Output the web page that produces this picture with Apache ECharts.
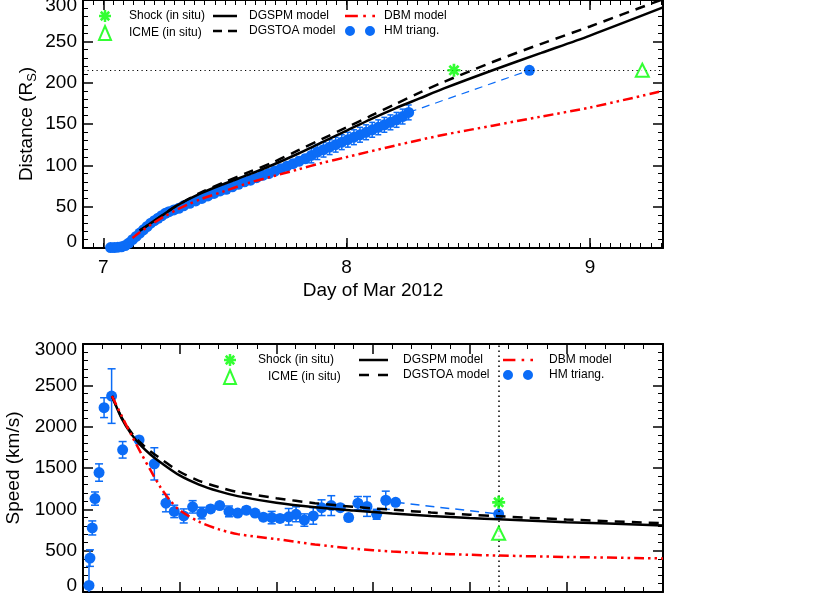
<!DOCTYPE html>
<html>
<head>
<meta charset="utf-8">
<script src="https://cdn.jsdelivr.net/npm/echarts@6/dist/echarts.min.js"></script>
<style>
  html, body { margin: 0; padding: 0; background: #fff; }
  #chart { width: 830px; height: 593px; }
</style>
</head>
<body>
<div id="chart"></div>
<script>
// ---- top panel: distance vs time (day of March 2012) ----
var hmDay = [7.030, 7.045, 7.060, 7.075, 7.090, 7.105, 7.120, 7.135, 7.150, 7.165, 7.180, 7.195, 7.210, 7.225, 7.240, 7.255, 7.270,
             7.290, 7.310, 7.330,
             7.355, 7.380, 7.405, 7.430, 7.455, 7.480, 7.505, 7.530, 7.555, 7.580, 7.605, 7.630, 7.655, 7.680, 7.705, 7.730, 7.755, 7.780, 7.805, 7.830,
             7.855, 7.880, 7.905, 7.930, 7.955, 7.980, 8.005, 8.030, 8.055, 8.080, 8.105, 8.130, 8.155, 8.180, 8.205, 8.230, 8.255];
var hmDist = [0.5, 0.5, 1, 1.5, 3, 6, 10, 14, 18, 22, 26, 30, 33, 36, 39, 42, 44,
              46, 48, 51,
              54, 57, 60, 63, 66, 69, 71, 74, 77, 80, 82, 85, 88, 90, 93, 96, 99, 102, 105, 108,
              112, 116, 119, 122, 125, 128, 131, 134, 137, 140, 143, 146, 149, 152, 155, 159, 164];
var hmDistErr = [3, 3, 3, 3, 3, 4, 4, 4, 4, 4, 4, 4, 4, 4, 4, 4, 4,
                 4, 4, 4,
                 4, 4, 4, 4, 4, 4, 4, 4, 4, 4, 4, 4, 4, 4, 4, 4, 4, 4, 5, 5,
                 9, 9, 9, 9, 9, 9, 9, 9, 9, 9, 9, 9, 9, 9, 9, 9, 9];
var hmArrivalDay = 8.751;
var auDist = 215;          // 1 AU in solar radii
var shockDay = 8.441;
var icmeDay = 9.215;

var dgsDay     = [7.15, 7.2, 7.25, 7.3, 7.4, 7.5, 7.6, 7.7, 7.8, 7.9, 8.0, 8.1, 8.2, 8.3, 8.4, 8.6, 8.8, 9.0, 9.3];
var dgspmDist  = [21, 31, 41, 51, 66, 78, 89, 101, 114, 128, 142, 156, 169, 181, 193, 215, 236, 257, 291];
var dgstoaDist = [21, 31, 41, 51, 67, 80, 92, 104, 118, 132, 146, 160, 174, 188, 201, 225, 247, 268, 301];
var dbmDay  = [7.12, 7.15, 7.2, 7.25, 7.3, 7.35, 7.4, 7.5, 7.6, 7.7, 7.8, 7.9, 8.0, 8.2, 8.4, 8.6, 8.8, 9.0, 9.3];
var dbmDist = [12, 19, 29, 38, 46, 53, 59, 69, 79, 87, 95, 103, 110, 124, 137, 148, 159, 170, 190];

// ---- bottom panel: speed vs distance (R_sun) ----
var hmR = [3.1, 3.6, 4.8, 6.2, 8.3, 10.9, 14.8, 20.5, 29.0, 36.9, 42.9, 47.2, 52.1, 56.7, 61.4, 66.0, 70.7, 75.5, 80.0,
           84.5, 89.0, 93.3, 97.6, 101.9, 106.4, 110.2, 114.5, 119.1, 123.4, 128.4, 133.1, 137.4, 142.2, 146.9, 151.9, 156.6, 161.7];
var hmV = [80, 410, 775, 1130, 1445, 2230, 2370, 1720, 1840, 1550, 1075, 975, 920, 1030, 955, 1005, 1045, 975, 955,
           990, 955, 905, 900, 890, 910, 940, 870, 920, 1020, 1045, 1020, 900, 1075, 1035, 940, 1110, 1085];
var hmVErr = [300, 100, 85, 80, 105, 120, 330, 100, 40, 195, 105, 75, 85, 75, 70, 40, 40, 65, 40,
              40, 40, 40, 75, 40, 100, 90, 75, 100, 95, 120, 30, 40, 80, 120, 60, 110, 30];
var hmArrivalV = 943;
var shockV = 1085;
var icmeV = 710;

var modelR  = [15, 20, 25, 30, 35, 40, 50, 60, 70, 80, 100, 120, 140, 160, 180, 200, 215, 250, 300];
var dgspmV  = [2371, 2100, 1910, 1770, 1660, 1570, 1410, 1300, 1220, 1160, 1080, 1025, 985, 950, 920, 895, 880, 845, 805];
var dgstoaV = [2371, 2110, 1930, 1800, 1700, 1615, 1455, 1345, 1270, 1210, 1135, 1075, 1030, 995, 962, 935, 917, 877, 832];
var dbmR = [15, 20, 25, 30, 35, 40, 45, 50, 60, 70, 80, 100, 120, 140, 160, 180, 200, 215, 250, 300];
var dbmV = [2371, 2130, 1900, 1680, 1470, 1270, 1110, 990, 850, 760, 700, 640, 575, 525, 490, 467, 450, 441, 424, 406];

var dayMin = 166 / 24, dayMax = 9.3;

var FONT = "'Liberation Sans', Arial, Helvetica, sans-serif";
var BLUE = '#0b6cf7';
var GREEN = '#00ff00';
var RED = '#ff0000';
var ASTERISK = 'path://M4.75,0L7.25,0L7.25,12L4.75,12ZM0,4.75L12,4.75L12,7.25L0,7.25Z' +
               'M0.873,2.641L2.641,0.873L11.127,9.359L9.359,11.127ZM9.359,0.873L11.127,2.641L2.641,11.127L0.873,9.359Z';
var TWO_DOTS = 'path://M0,5A5,5,0,1,1,10,5A5,5,0,1,1,0,5ZM20,5A5,5,0,1,1,30,5A5,5,0,1,1,20,5Z';

// legend icons that mimic the line styles (w = icon width in px)
function bar(x0, x1) { return 'M' + x0 + ',0H' + x1 + 'V2.5H' + x0 + 'Z'; }
function solidIcon(w) { return 'path://' + bar(0, w); }
function dashIcon(w) { var d = Math.round(w * 0.36); return 'path://' + bar(0, d) + bar(w - d, w); }
function dbmIcon(w) {
  return 'path://' + bar(0, Math.round(w * 0.42)) + bar(Math.round(w * 0.62), Math.round(w * 0.62) + 2.5) + bar(w - 2.5, w);
}

function zip(xs, ys) {
  return xs.map(function (x, i) { return [x, ys[i]]; });
}
function zip3(xs, ys, es) {
  return xs.map(function (x, i) { return [x, ys[i], es[i]]; });
}

var labelStyle = { color: '#000', fontFamily: FONT, fontSize: 19 };
function plain(v) { return String(v); }
function axisLine() { return { onZero: false, lineStyle: { color: '#000', width: 2 } }; }
function tick(len, w) { return { inside: true, length: len, lineStyle: { color: '#000', width: w } }; }
function minor(n) { return { show: true, splitNumber: n, length: 5, lineStyle: { color: '#000', width: 1 } }; }
function noLabel() { return { show: false }; }
function yLabel() {
  return Object.assign({ margin: 6, formatter: plain, lineHeight: 12,
                         verticalAlignMinLabel: 'bottom', verticalAlignMaxLabel: 'top' }, labelStyle);
}

function errorBars(cap) {
  return function (params, api) {
    var x = api.value(0), y = api.value(1), e = api.value(2);
    var hi = api.coord([x, y + e]);
    var lo = api.coord([x, y - e]);
    var st = { stroke: BLUE, lineWidth: 1.5 };
    return {
      type: 'group',
      children: [
        { type: 'line', shape: { x1: hi[0], y1: hi[1], x2: lo[0], y2: lo[1] }, style: st },
        { type: 'line', shape: { x1: hi[0] - cap, y1: hi[1], x2: hi[0] + cap, y2: hi[1] }, style: st },
        { type: 'line', shape: { x1: lo[0] - cap, y1: lo[1], x2: lo[0] + cap, y2: lo[1] }, style: st }
      ]
    };
  };
}

var legendText = { color: '#000', fontFamily: FONT, fontSize: 12 };
function legendCol(left, top, w, items) {
  return {
    left: left, top: top, orient: 'vertical', padding: 0,
    itemWidth: w, itemHeight: 14, itemGap: 3,
    selectedMode: false, textStyle: legendText, data: items
  };
}
function item(name, pad, icon) {
  var it = { name: name, textStyle: { padding: [0, 0, 0, pad] } };
  if (icon) it.icon = icon;
  return it;
}

var dotted = { color: '#000', width: 1, type: [1.2, 3.3] };

var chart = echarts.init(document.getElementById('chart'), null, { renderer: 'canvas' });
chart.setOption({
  backgroundColor: '#fff',
  animation: false,
  grid: [
    { left: 83, right: 167, top: 0, height: 248, containLabel: false, outerBoundsMode: 'none' },
    { left: 83, right: 167, top: 344, height: 248, containLabel: false, outerBoundsMode: 'none' }
  ],
  legend: [
    legendCol(98, 10, 12, [item('Shock (in situ)', 13), item('ICME (in situ)', 13)]),
    legendCol(213, 10, 24, [item('DGSPM model', 7, solidIcon(24)), item('DGSTOA model', 7, dashIcon(24))]),
    legendCol(345, 10, 30, [item('DBM model', 4, dbmIcon(28)), item('HM triang.', 4, TWO_DOTS)]),
    legendCol(223, 354, 12, [item('Shock (in situ)', 17), item('ICME (in situ)', 27)]),
    legendCol(359, 354, 29, [item('DGSPM model', 10, solidIcon(29)), item('DGSTOA model', 10, dashIcon(29))]),
    legendCol(503, 354, 30, [item('DBM model', 11, dbmIcon(29)), item('HM triang.', 11, TWO_DOTS)])
  ],
  xAxis: [
    { gridIndex: 0, type: 'value', position: 'bottom', min: dayMin, max: dayMax, splitNumber: 3,
      axisLine: axisLine(), axisTick: tick(10, 1.5), splitLine: { show: false },
      axisLabel: Object.assign({ margin: 10, formatter: plain, showMinLabel: false, showMaxLabel: false }, labelStyle),
      name: 'Day of Mar 2012', nameLocation: 'middle', nameGap: 33, nameMoveOverlap: false, nameTextStyle: labelStyle },
    { gridIndex: 0, type: 'value', position: 'bottom', min: dayMin, max: dayMax, interval: 1 / 24,
      axisLine: { show: false, onZero: false }, axisTick: tick(5, 1), axisLabel: noLabel(), splitLine: { show: false } },
    { gridIndex: 0, type: 'value', position: 'top', min: dayMin, max: dayMax, splitNumber: 3,
      axisLine: axisLine(), axisTick: tick(10, 1.5), axisLabel: noLabel(), splitLine: { show: false } },
    { gridIndex: 0, type: 'value', position: 'top', min: dayMin, max: dayMax, interval: 1 / 24,
      axisLine: { show: false, onZero: false }, axisTick: tick(5, 1), axisLabel: noLabel(), splitLine: { show: false } },
    { gridIndex: 1, type: 'value', position: 'bottom', min: 0, max: 300, interval: 50,
      axisLine: axisLine(), axisTick: tick(10, 1.5), minorTick: minor(5), splitLine: { show: false },
      axisLabel: Object.assign({ margin: 10, formatter: plain }, labelStyle) },
    { gridIndex: 1, type: 'value', position: 'top', min: 0, max: 300, interval: 50,
      axisLine: axisLine(), axisTick: tick(10, 1.5), minorTick: minor(5), splitLine: { show: false },
      axisLabel: noLabel() }
  ],
  yAxis: [
    { gridIndex: 0, type: 'value', position: 'left', min: 0, max: 300, interval: 50,
      axisLine: axisLine(), axisTick: tick(10, 1.5), minorTick: minor(5), splitLine: { show: false },
      axisLabel: yLabel(),
      name: '{a|Distance (R}{s|S}{a|)}', nameLocation: 'middle', nameGap: 44, nameRotate: 90, nameMoveOverlap: false,
      nameTextStyle: { rich: {
        a: { color: '#000', fontFamily: FONT, fontSize: 19 },
        s: { color: '#000', fontFamily: FONT, fontSize: 13, padding: [12, 0, 0, 0] }
      } } },
    { gridIndex: 0, type: 'value', position: 'right', min: 0, max: 300, interval: 50,
      axisLine: axisLine(), axisTick: tick(10, 1.5), minorTick: minor(5), splitLine: { show: false },
      axisLabel: noLabel() },
    { gridIndex: 1, type: 'value', position: 'left', min: 0, max: 3000, interval: 500,
      axisLine: axisLine(), axisTick: tick(10, 1.5), minorTick: minor(5), splitLine: { show: false },
      axisLabel: yLabel(),
      name: 'Speed (km/s)', nameLocation: 'middle', nameGap: 60, nameRotate: 90, nameMoveOverlap: false,
      nameTextStyle: labelStyle },
    { gridIndex: 1, type: 'value', position: 'right', min: 0, max: 3000, interval: 500,
      axisLine: axisLine(), axisTick: tick(10, 1.5), minorTick: minor(5), splitLine: { show: false },
      axisLabel: noLabel() }
  ],
  series: [
    // ---------- top panel ----------
    { name: 'HM err top', type: 'custom', xAxisIndex: 0, yAxisIndex: 0, z: 2, clip: true,
      renderItem: errorBars(3), data: zip3(hmDay, hmDist, hmDistErr) },
    { name: 'HM triang.', type: 'scatter', xAxisIndex: 0, yAxisIndex: 0, z: 3,
      symbol: 'circle', symbolSize: 11, itemStyle: { color: BLUE, opacity: 1 },
      data: zip(hmDay, hmDist).concat([[hmArrivalDay, auDist]]) },
    { name: 'HM link top', type: 'line', xAxisIndex: 0, yAxisIndex: 0, z: 3, symbol: 'none',
      lineStyle: { color: BLUE, width: 1.2, type: [8, 6] },
      data: [[hmDay[hmDay.length - 1], hmDist[hmDist.length - 1]], [hmArrivalDay, auDist]] },
    { name: 'DGSPM model', type: 'line', xAxisIndex: 0, yAxisIndex: 0, z: 5, symbol: 'none', smooth: 0.3,
      lineStyle: { color: '#000', width: 2.5, type: 'solid' }, itemStyle: { color: '#000' },
      data: zip(dgsDay, dgspmDist),
      markLine: { silent: true, symbol: 'none', label: { show: false }, lineStyle: dotted,
                  data: [{ yAxis: auDist }] } },
    { name: 'DGSTOA model', type: 'line', xAxisIndex: 0, yAxisIndex: 0, z: 5, symbol: 'none', smooth: 0.3,
      lineStyle: { color: '#000', width: 2.5, type: [10, 7] }, itemStyle: { color: '#000' },
      data: zip(dgsDay, dgstoaDist) },
    { name: 'DBM model', type: 'line', xAxisIndex: 0, yAxisIndex: 0, z: 5, symbol: 'none', smooth: 0.3,
      lineStyle: { color: RED, width: 2.5, type: [10, 4, 2.5, 4, 2.5, 4] }, itemStyle: { color: RED },
      data: zip(dbmDay, dbmDist) },
    { name: 'Shock (in situ)', type: 'scatter', xAxisIndex: 0, yAxisIndex: 0, z: 6,
      symbol: ASTERISK, symbolSize: 13, symbolKeepAspect: true, itemStyle: { color: GREEN },
      data: [[shockDay, auDist]] },
    { name: 'ICME (in situ)', type: 'scatter', xAxisIndex: 0, yAxisIndex: 0, z: 6,
      symbol: 'emptyTriangle', symbolSize: 13, itemStyle: { color: GREEN },
      data: [[icmeDay, auDist]] },

    // ---------- bottom panel ----------
    { name: 'HM err bottom', type: 'custom', xAxisIndex: 4, yAxisIndex: 2, z: 2, clip: true,
      renderItem: errorBars(4), data: zip3(hmR, hmV, hmVErr) },
    { name: 'HM triang.', type: 'scatter', xAxisIndex: 4, yAxisIndex: 2, z: 3,
      symbol: 'circle', symbolSize: 11, itemStyle: { color: BLUE, opacity: 1 },
      data: zip(hmR, hmV).concat([[auDist, hmArrivalV]]) },
    { name: 'HM link bottom', type: 'line', xAxisIndex: 4, yAxisIndex: 2, z: 3, symbol: 'none',
      lineStyle: { color: BLUE, width: 1.5, type: [9, 6] },
      data: [[hmR[hmR.length - 1], hmV[hmV.length - 1]], [auDist, hmArrivalV]] },
    { name: 'DGSPM model', type: 'line', xAxisIndex: 4, yAxisIndex: 2, z: 5, symbol: 'none', smooth: 0.3,
      lineStyle: { color: '#000', width: 2.5, type: 'solid' }, itemStyle: { color: '#000' },
      data: zip(modelR, dgspmV),
      markLine: { silent: true, symbol: 'none', label: { show: false },
                  lineStyle: { color: '#000', width: 1.5, type: [1.5, 3.5] },
                  data: [{ xAxis: auDist }] } },
    { name: 'DGSTOA model', type: 'line', xAxisIndex: 4, yAxisIndex: 2, z: 5, symbol: 'none', smooth: 0.3,
      lineStyle: { color: '#000', width: 2.5, type: [10, 7] }, itemStyle: { color: '#000' },
      data: zip(modelR, dgstoaV) },
    { name: 'DBM model', type: 'line', xAxisIndex: 4, yAxisIndex: 2, z: 5, symbol: 'none', smooth: 0.3,
      lineStyle: { color: RED, width: 2.5, type: [10, 4, 2.5, 4, 2.5, 4] }, itemStyle: { color: RED },
      data: zip(dbmR, dbmV) },
    { name: 'Shock (in situ)', type: 'scatter', xAxisIndex: 4, yAxisIndex: 2, z: 6,
      symbol: ASTERISK, symbolSize: 13, symbolKeepAspect: true, itemStyle: { color: GREEN },
      data: [[auDist, shockV]] },
    { name: 'ICME (in situ)', type: 'scatter', xAxisIndex: 4, yAxisIndex: 2, z: 6,
      symbol: 'emptyTriangle', symbolSize: 13, itemStyle: { color: GREEN },
      data: [[auDist, icmeV]] }
  ]
});
</script>
</body>
</html>
